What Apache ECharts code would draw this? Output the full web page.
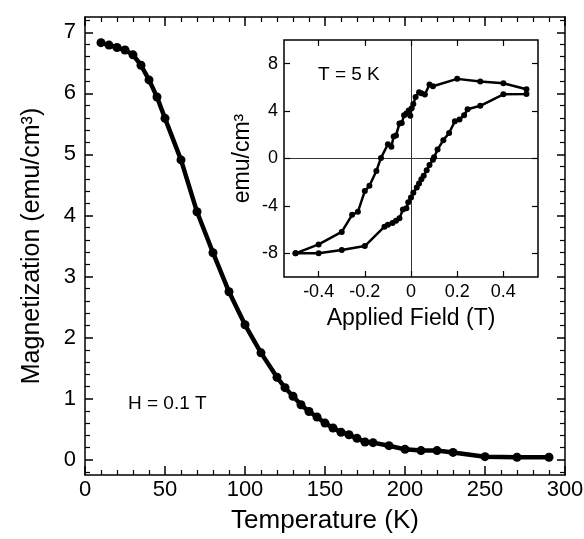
<!DOCTYPE html>
<html>
<head>
<meta charset="utf-8">
<script src="https://cdn.jsdelivr.net/npm/echarts@6/dist/echarts.min.js"></script>
<style>html,body{margin:0;padding:0;background:#fff}#c{width:584px;height:539px}</style>
</head>
<body>
<div id="c"></div>
<script>
// Main curve: M(T) at H = 0.1 T
const temperature = [10,15,20,25,30,35,40,45,50,60,70,80,90,100,110,120,125,130,135,140,145,150,155,160,165,170,175,180,190,200,210,220,230,250,270,290];
const magnetization = [6.83,6.79,6.75,6.71,6.63,6.46,6.22,5.94,5.59,4.91,4.06,3.39,2.75,2.21,1.75,1.35,1.18,1.04,0.90,0.79,0.70,0.60,0.52,0.45,0.41,0.35,0.29,0.28,0.23,0.17,0.15,0.15,0.12,0.05,0.04,0.04];

// Inset: hysteresis loop at T = 5 K
const fieldUp = [-0.50,-0.40,-0.30,-0.20,-0.115,-0.10,-0.08,-0.065,-0.05,-0.035,-0.02,-0.012,0.0,0.01,0.025,0.035,0.045,0.055,0.068,0.08,0.095,0.10,0.115,0.14,0.165,0.19,0.21,0.23,0.245,0.30,0.40,0.50];
const momentUp = [-8.0,-8.0,-7.72,-7.39,-5.75,-5.6,-5.45,-5.25,-5.05,-4.3,-4.2,-3.7,-3.3,-2.9,-2.45,-2.1,-1.75,-1.45,-1.0,-0.55,-0.1,0.1,0.75,1.55,2.15,3.15,3.3,3.65,4.15,4.45,5.42,5.45];
const fieldDown = [0.50,0.40,0.30,0.20,0.095,0.08,0.06,0.045,0.035,0.02,0.01,0.003,-0.003,-0.01,-0.02,-0.03,-0.04,-0.05,-0.065,-0.075,-0.085,-0.10,-0.13,-0.15,-0.18,-0.20,-0.23,-0.255,-0.30,-0.40,-0.50];
const momentDown = [5.85,6.35,6.5,6.72,6.1,6.25,5.4,5.5,5.6,5.2,4.6,4.25,3.6,4.05,3.8,3.65,3.0,2.95,1.95,1.85,1.0,1.2,0.05,-1.05,-2.3,-2.75,-4.5,-4.75,-6.2,-7.25,-8.0];

// Tick values
const yMajorTicks = [0,1,2,3,4,5,6,7];
const yMinorTicks = [-0.2,0.2,0.4,0.6,0.8,1.2,1.4,1.6,1.8,2.2,2.4,2.6,2.8,3.2,3.4,3.6,3.8,4.2,4.4,4.6,4.8,5.2,5.4,5.6,5.8,6.2,6.4,6.6,6.8,7.2];
const insetXTicks = [-0.4,-0.2,0,0.2,0.4];
const insetYTicks = [-8,-4,0,4,8];

const FONT = "'Liberation Sans', Arial, sans-serif";
const BLACK = '#000';

const mainData = temperature.map((t, i) => [t, magnetization[i]]);
const loopData = fieldUp.map((h, i) => [h, momentUp[i]]).concat(fieldDown.map((h, i) => [h, momentDown[i]]));

const frameLine = { show: true, onZero: false, lineStyle: { color: BLACK, width: 1.5 } };
const noLine = { show: false, onZero: false };

function yAx(opts) {
  return Object.assign({
    type: 'value', gridIndex: 0, min: -0.25, max: 7.25,
    axisLine: frameLine,
    splitLine: { show: false },
    nameMoveOverlap: false
  }, opts);
}

const option = {
  backgroundColor: '#fff',
  animation: false,
  grid: [
    { left: 85, top: 17, width: 480, height: 458, outerBoundsMode: 'none', containLabel: false },
    { left: 284, top: 40, width: 254, height: 237, show: true, backgroundColor: '#fff', borderColor: BLACK, borderWidth: 1.5, outerBoundsMode: 'none', containLabel: false, z: 5 }
  ],
  xAxis: [
    { type: 'value', gridIndex: 0, position: 'bottom', min: 0, max: 300, interval: 50,
      axisLine: frameLine,
      axisTick: { inside: true, length: 9, lineStyle: { color: BLACK, width: 1.5 } },
      minorTick: { show: true, splitNumber: 5, length: 5, lineStyle: { color: BLACK, width: 1.2 } },
      axisLabel: { color: BLACK, fontSize: 22, fontFamily: FONT, margin: 4 },
      splitLine: { show: false },
      name: 'Temperature (K)', nameLocation: 'middle', nameGap: 33, nameMoveOverlap: false,
      nameTextStyle: { color: BLACK, fontSize: 26, fontFamily: FONT } },
    { type: 'value', gridIndex: 0, position: 'top', min: 0, max: 300, interval: 50,
      axisLine: frameLine,
      axisTick: { inside: true, length: 9, lineStyle: { color: BLACK, width: 1.5 } },
      minorTick: { show: true, splitNumber: 5, length: 5, lineStyle: { color: BLACK, width: 1.2 } },
      axisLabel: { show: false }, splitLine: { show: false } },
    { type: 'value', gridIndex: 1, position: 'bottom', min: -0.55, max: 0.55,
      axisLine: noLine,
      axisTick: { inside: true, length: 6, customValues: insetXTicks, lineStyle: { color: BLACK, width: 1.2 } },
      axisLabel: { customValues: insetXTicks, color: BLACK, fontSize: 18, fontFamily: FONT, margin: 6 },
      splitLine: { show: false },
      name: 'Applied Field (T)', nameLocation: 'middle', nameGap: 30, nameMoveOverlap: false,
      nameTextStyle: { color: BLACK, fontSize: 23, fontFamily: FONT }, z: 6 },
    { type: 'value', gridIndex: 1, position: 'top', min: -0.55, max: 0.55,
      axisLine: noLine,
      axisTick: { inside: true, length: 6, customValues: insetXTicks, lineStyle: { color: BLACK, width: 1.2 } },
      axisLabel: { show: false }, splitLine: { show: false }, z: 6 }
  ],
  yAxis: [
    yAx({ position: 'left',
      axisTick: { inside: true, length: 8, customValues: yMajorTicks, lineStyle: { color: BLACK, width: 1.5 } },
      axisLabel: { customValues: yMajorTicks, color: BLACK, fontSize: 22, fontFamily: FONT, margin: 9 },
      name: 'Magnetization (emu/cm\u00b3)', nameLocation: 'middle', nameGap: 40,
      nameTextStyle: { color: BLACK, fontSize: 25, fontFamily: FONT } }),
    yAx({ position: 'left', axisLine: noLine,
      axisTick: { inside: true, length: 5, customValues: yMinorTicks, lineStyle: { color: BLACK, width: 1.2 } },
      axisLabel: { show: false } }),
    yAx({ position: 'right',
      axisTick: { inside: true, length: 8, customValues: yMajorTicks, lineStyle: { color: BLACK, width: 1.5 } },
      axisLabel: { show: false } }),
    yAx({ position: 'right', axisLine: noLine,
      axisTick: { inside: true, length: 5, customValues: yMinorTicks, lineStyle: { color: BLACK, width: 1.2 } },
      axisLabel: { show: false } }),
    { type: 'value', gridIndex: 1, position: 'left', min: -10, max: 10,
      axisLine: noLine,
      axisTick: { inside: true, length: 6, customValues: insetYTicks, lineStyle: { color: BLACK, width: 1.2 } },
      axisLabel: { customValues: insetYTicks, color: BLACK, fontSize: 18, fontFamily: FONT, margin: 6 },
      splitLine: { show: false },
      name: 'emu/cm\u00b3', nameLocation: 'middle', nameGap: 30, nameMoveOverlap: false,
      nameTextStyle: { color: BLACK, fontSize: 23, fontFamily: FONT }, z: 6 },
    { type: 'value', gridIndex: 1, position: 'right', min: -10, max: 10,
      axisLine: noLine,
      axisTick: { inside: true, length: 6, customValues: insetYTicks, lineStyle: { color: BLACK, width: 1.2 } },
      axisLabel: { show: false }, splitLine: { show: false }, z: 6 }
  ],
  series: [
    { type: 'line', xAxisIndex: 0, yAxisIndex: 0, data: mainData,
      symbol: 'circle', symbolSize: 9, showSymbol: true,
      lineStyle: { color: BLACK, width: 4.5 }, itemStyle: { color: BLACK }, z: 3 },
    { type: 'line', xAxisIndex: 2, yAxisIndex: 4, data: loopData,
      symbol: 'circle', symbolSize: 6, showSymbol: true,
      lineStyle: { color: BLACK, width: 2.5 }, itemStyle: { color: BLACK }, z: 8,
      markLine: { silent: true, symbol: 'none', label: { show: false },
        lineStyle: { color: '#333', width: 1, type: 'solid' },
        data: [{ xAxis: 0 }, { yAxis: 0 }] } }
  ],
  graphic: [
    { type: 'text', left: 128, top: 394, z: 10,
      style: { text: 'H = 0.1 T', fill: BLACK, font: "19px 'Liberation Sans', Arial, sans-serif" } },
    { type: 'text', left: 318, top: 65, z: 10,
      style: { text: 'T = 5 K', fill: BLACK, font: "19px 'Liberation Sans', Arial, sans-serif" } }
  ]
};

echarts.init(document.getElementById('c'), null, { renderer: 'canvas' }).setOption(option);
</script>
</body>
</html>
